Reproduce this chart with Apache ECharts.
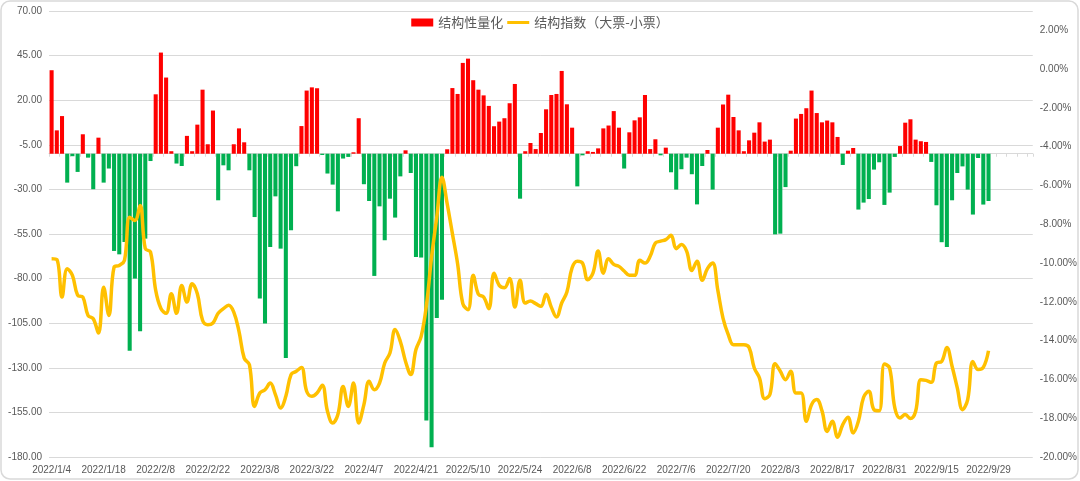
<!DOCTYPE html>
<html><head><meta charset="utf-8">
<script src="https://cdn.jsdelivr.net/npm/echarts@6/dist/echarts.min.js"></script>
<style>html,body{margin:0;padding:0;background:#fff}#c{width:1080px;height:481px}</style>
</head><body><div id="c"></div>
<script>
const categories = [
'2022/1/4','2022/1/5','2022/1/6','2022/1/7','2022/1/10','2022/1/11','2022/1/12','2022/1/13','2022/1/14','2022/1/17','2022/1/18','2022/1/19','2022/1/20','2022/1/21','2022/1/24','2022/1/25','2022/1/26','2022/1/27','2022/1/28',
'2022/2/7','2022/2/8','2022/2/9','2022/2/10','2022/2/11','2022/2/14','2022/2/15','2022/2/16','2022/2/17','2022/2/18','2022/2/21','2022/2/22','2022/2/23','2022/2/24','2022/2/25','2022/2/28',
'2022/3/1','2022/3/2','2022/3/3','2022/3/4','2022/3/7','2022/3/8','2022/3/9','2022/3/10','2022/3/11','2022/3/14','2022/3/15','2022/3/16','2022/3/17','2022/3/18','2022/3/21','2022/3/22','2022/3/23','2022/3/24','2022/3/25','2022/3/28','2022/3/29','2022/3/30','2022/3/31',
'2022/4/1','2022/4/6','2022/4/7','2022/4/8','2022/4/11','2022/4/12','2022/4/13','2022/4/14','2022/4/15','2022/4/18','2022/4/19','2022/4/20','2022/4/21','2022/4/22','2022/4/25','2022/4/26','2022/4/27','2022/4/28','2022/4/29',
'2022/5/5','2022/5/6','2022/5/9','2022/5/10','2022/5/11','2022/5/12','2022/5/13','2022/5/16','2022/5/17','2022/5/18','2022/5/19','2022/5/20','2022/5/23','2022/5/24','2022/5/25','2022/5/26','2022/5/27','2022/5/30','2022/5/31',
'2022/6/1','2022/6/2','2022/6/6','2022/6/7','2022/6/8','2022/6/9','2022/6/10','2022/6/13','2022/6/14','2022/6/15','2022/6/16','2022/6/17','2022/6/20','2022/6/21','2022/6/22','2022/6/23','2022/6/24','2022/6/27','2022/6/28','2022/6/29','2022/6/30',
'2022/7/1','2022/7/4','2022/7/5','2022/7/6','2022/7/7','2022/7/8','2022/7/11','2022/7/12','2022/7/13','2022/7/14','2022/7/15','2022/7/18','2022/7/19','2022/7/20','2022/7/21','2022/7/22','2022/7/25','2022/7/26','2022/7/27','2022/7/28','2022/7/29',
'2022/8/1','2022/8/2','2022/8/3','2022/8/4','2022/8/5','2022/8/8','2022/8/9','2022/8/10','2022/8/11','2022/8/12','2022/8/15','2022/8/16','2022/8/17','2022/8/18','2022/8/19','2022/8/22','2022/8/23','2022/8/24','2022/8/25','2022/8/26','2022/8/29','2022/8/30','2022/8/31',
'2022/9/1','2022/9/2','2022/9/5','2022/9/6','2022/9/7','2022/9/8','2022/9/9','2022/9/13','2022/9/14','2022/9/15','2022/9/16','2022/9/19','2022/9/20','2022/9/21','2022/9/22','2022/9/23','2022/9/26','2022/9/27','2022/9/28','2022/9/29','2022/9/30',
'2022/10/10','2022/10/11','2022/10/12','2022/10/13','2022/10/14','2022/10/17','2022/10/18'
];

// 结构性量化 (left axis)
const structQuant = [
36.8,3.1,11.1,-26.2,-11.4,-20.2,0.9,-12.2,-29.9,-1.0,
-26.2,-18.3,-64.5,-66.4,-59.5,-120.4,-80.0,-109.5,-57.6,-14.1,
23.3,46.7,32.7,-8.6,-15.5,-16.9,0.0,-8.6,6.3,25.9,
-4.7,14.2,-36.1,-16.5,-19.3,-4.7,4.2,-3.6,-19.3,-45.5,
-91.2,-105.2,-62.3,-33.9,-63.2,-124.5,-52.9,-17.0,5.5,25.4,
27.2,26.7,-10.7,-21.1,-27.3,-42.3,-12.7,-11.8,-9.2,9.9,
-27.1,-36.5,-78.5,-39.5,-58.5,-35.2,-45.8,-22.7,-8.1,-20.8,
-67.9,-68.2,-159.6,-174.6,-102.1,-91.8,-7.5,26.8,23.5,40.9,
43.3,31.2,25.9,22.7,16.8,5.4,8.0,9.9,18.3,29.1,
-35.2,-8.6,-4.0,-7.4,1.6,14.9,22.9,23.5,36.4,17.7,
4.6,-28.3,-10.9,-8.6,-9.0,-7.0,4.2,5.8,13.9,4.6,
-18.3,2.0,8.7,10.4,22.9,-7.4,-1.9,-10.9,-6.6,-20.4,
-30.1,-18.7,-12.2,-21.5,-38.4,-16.9,-7.9,-30.1,4.6,17.6,
23.1,10.6,3.1,-8.6,-2.5,1.8,7.6,-3.2,-2.1,-55.2,
-54.8,-28.7,-8.3,9.7,12.3,15.5,25.4,12.8,7.6,8.6,
7.6,-0.6,-16.3,-8.3,-6.8,-41.3,-37.4,-35.4,-18.9,-14.8,
-38.7,-31.8,-11.8,-5.7,7.4,9.3,-2.1,-3.0,-3.4,-14.6,
-38.9,-59.6,-62.3,-36.1,-20.8,-17.1,-30.1,-44.1,-12.4,-38.5,
-36.5
];

// 结构指数（大票-小票） in % (right axis)
const structIndex = [
-9.77,-9.81,-11.75,-10.29,-10.63,-11.66,-11.75,-12.70,-12.87,-13.61,
-11.24,-12.70,-10.21,-10.12,-9.86,-7.63,-7.80,-7.03,-9.26,-9.43,
-11.41,-12.34,-12.59,-11.58,-12.59,-11.15,-12.01,-11.06,-11.58,-12.95,
-13.18,-13.09,-12.59,-12.35,-12.18,-12.53,-13.52,-14.90,-15.24,-17.39,
-16.70,-16.53,-16.19,-16.78,-17.47,-16.87,-15.75,-15.58,-15.38,-16.61,
-16.87,-16.70,-16.30,-17.64,-18.25,-17.81,-16.36,-17.39,-16.19,-18.25,
-17.30,-16.10,-16.53,-16.19,-15.15,-14.64,-13.43,-14.04,-15.07,-15.75,
-14.46,-13.78,-12.20,-9.69,-7.63,-5.57,-6.94,-8.48,-10.03,-12.09,
-12.40,-10.63,-11.61,-11.75,-12.35,-10.52,-11.15,-11.27,-10.80,-12.27,
-10.89,-12.06,-11.96,-12.09,-12.23,-11.61,-12.27,-12.78,-12.06,-11.49,
-10.24,-9.90,-10.00,-10.86,-10.52,-9.38,-10.52,-9.77,-10.07,-10.17,
-10.41,-10.63,-10.63,-9.86,-10.00,-9.65,-8.97,-8.87,-8.79,-8.57,
-9.26,-9.04,-9.38,-10.38,-9.90,-10.89,-10.29,-10.00,-11.41,-12.85,
-13.69,-14.21,-14.21,-14.21,-14.35,-15.41,-15.93,-16.99,-16.78,-15.19,
-15.58,-16.01,-15.58,-16.70,-16.70,-18.16,-17.30,-17.04,-17.61,-18.68,
-18.16,-18.98,-18.33,-17.95,-18.76,-18.16,-16.92,-16.61,-17.56,-17.61,
-15.21,-15.41,-17.47,-17.99,-17.81,-18.02,-17.64,-16.01,-16.05,-16.15,
-15.15,-15.07,-14.35,-15.32,-16.44,-17.56,-17.04,-15.07,-15.49,-15.38,
-14.52
];

const LEFT_MIN = -180, LEFT_MAX = 70, LEFT_STEP = 25;
const RIGHT_MIN = -20, RIGHT_MAX = 3, RIGHT_STEP = 2;
const BAR_BASE = -10;   // horizontal axis crosses the left axis here

const RED = '#FF0000', GREEN = '#00B050', GOLD = '#FFC000', TXT = '#595959', GRID = '#d9d9d9';
const NAME_BAR = '结构性量化', NAME_LINE = '结构指数（大票-小票）';
// thin line icon: invisible zero-area marks at top/bottom keep the bar 4px thick inside an 8px box
const LINE_ICON = 'path://M0,0L0.01,0L0.01,0.01Z M0,8L0.01,8L0.01,7.99Z M0,2H30V6H0Z';

const chart = echarts.init(document.getElementById('c'), null, {renderer: 'canvas'});
chart.setOption({
  backgroundColor: '#fff',
  animation: false,
  graphic: [{
    type: 'rect', silent: true, z: -10,
    shape: {x: 1, y: 1, width: 1077, height: 478, r: 9},
    style: {fill: 'none', stroke: '#d9d9d9', lineWidth: 1.5}
  }],
  legend: {
    top: 11, left: 'center', itemGap: 4, itemWidth: 22, itemHeight: 8,
    textStyle: {color: TXT, fontSize: 13, fontFamily: 'Noto Sans CJK SC'},
    data: [
      {name: NAME_BAR, icon: 'rect', itemStyle: {color: RED}},
      {name: NAME_LINE, icon: LINE_ICON, itemStyle: {color: GOLD, borderWidth: 0}}
    ]
  },
  grid: {left: 49, right: 47, top: 11, bottom: 24},
  xAxis: [{
    type: 'category', data: categories, boundaryGap: true,
    position: 'bottom',
    axisLine: {show: true, onZero: true, onZeroAxisIndex: 2, lineStyle: {color: GRID, width: 1}},
    axisTick: {show: true, interval: 1, length: 3, lineStyle: {color: GRID}},
    axisLabel: {show: false}, splitLine: {show: false}
  }, {
    type: 'category', data: categories, boundaryGap: true,
    position: 'bottom',
    axisLine: {show: false, onZero: false}, axisTick: {show: false},
    axisLabel: {interval: 9, color: TXT, fontSize: 10, fontFamily: 'Liberation Sans', margin: 8},
    splitLine: {show: false}
  }],
  yAxis: [{
    type: 'value', min: LEFT_MIN, max: LEFT_MAX, interval: LEFT_STEP, position: 'left',
    axisLine: {show: false}, axisTick: {show: false},
    axisLabel: {color: TXT, fontSize: 10, fontFamily: 'Liberation Sans', margin: 7, formatter: v => v.toFixed(2)},
    splitLine: {show: true, lineStyle: {color: GRID, width: 1}}
  }, {
    type: 'value', min: RIGHT_MIN, max: RIGHT_MAX, interval: RIGHT_STEP, position: 'right',
    axisLine: {show: false}, axisTick: {show: false},
    axisLabel: {color: TXT, fontSize: 10, fontFamily: 'Liberation Sans', margin: 7,
      formatter: v => v > RIGHT_MAX - RIGHT_STEP / 2 ? '' : v.toFixed(2) + '%'},
    splitLine: {show: false}
  }, {
    // helper axis: its zero sits at BAR_BASE on the left axis, so the category axis line crosses there
    type: 'value', show: false, min: LEFT_MIN - BAR_BASE, max: LEFT_MAX - BAR_BASE,
    splitLine: {show: false}
  }],
  series: [{
    name: NAME_BAR, type: 'custom', xAxisIndex: 0, yAxisIndex: 0, z: 2,
    itemStyle: {color: RED},
    data: structQuant.map((v, i) => [i, v]),
    renderItem: function (params, api) {
      const i = api.value(0), v = api.value(1);
      const base = api.coord([i, BAR_BASE]);
      const top = api.coord([i, v]);
      const w = api.size([1, 0])[0] * 0.78;
      return {
        type: 'rect',
        shape: {x: top[0] - w / 2, y: Math.min(base[1], top[1]), width: w, height: Math.abs(base[1] - top[1])},
        style: {fill: v >= BAR_BASE ? RED : GREEN}
      };
    }
  }, {
    name: NAME_LINE, type: 'line', xAxisIndex: 0, yAxisIndex: 1, z: 5,
    data: structIndex, smooth: 0.4, symbol: 'none', showSymbol: false,
    lineStyle: {color: GOLD, width: 3.5}, itemStyle: {color: GOLD}
  }]
});
</script></body></html>
